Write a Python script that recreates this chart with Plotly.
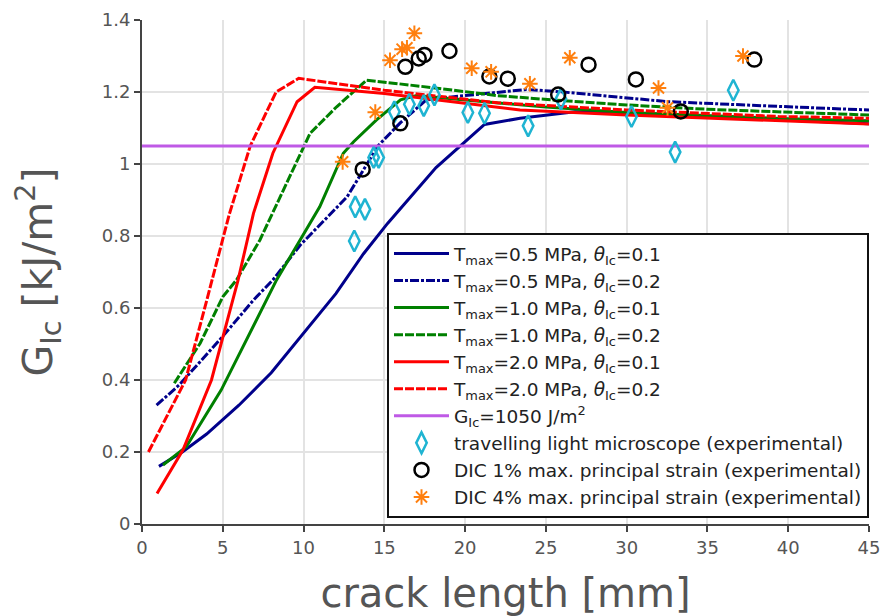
import plotly.graph_objects as go

# ---------------- data ----------------
# simulation curves (crack length [mm], G_Ic [kJ/m^2])
x_t05_01 = [1.05, 2.5, 4.0, 6.0, 8.0, 10.0, 12.0, 13.7, 15.2, 18.2, 21.2, 23.4, 26.8, 30.0, 35.0, 40.0, 45.0]
y_t05_01 = [0.16, 0.20, 0.25, 0.33, 0.42, 0.53, 0.64, 0.75, 0.835, 0.99, 1.11, 1.127, 1.145, 1.142, 1.132, 1.122, 1.112]

x_t05_02 = [0.9, 2.3, 4.8, 6.9, 8.1, 9.8, 12.7, 14.6, 16.0, 17.6, 19.3, 23.8, 25.8, 32.6, 39.4, 45.0]
y_t05_02 = [0.33, 0.386, 0.511, 0.622, 0.678, 0.775, 0.909, 1.05, 1.115, 1.178, 1.187, 1.207, 1.201, 1.173, 1.16, 1.15]

x_t10_01 = [1.3, 2.75, 4.9, 6.05, 7.7, 8.33, 11.0, 12.46, 13.1, 14.5, 16.0, 17.0, 20.0, 25.0, 30.0, 35.0, 40.0, 45.0]
y_t10_01 = [0.164, 0.215, 0.372, 0.474, 0.622, 0.678, 0.881, 1.03, 1.062, 1.122, 1.178, 1.19, 1.178, 1.158, 1.143, 1.134, 1.126, 1.12]

x_t10_02 = [2.0, 3.6, 5.0, 5.85, 7.3, 9.8, 10.4, 12.05, 13.9, 18.0, 22.0, 26.0, 30.0, 35.0, 40.0, 45.0]
y_t10_02 = [0.391, 0.502, 0.631, 0.678, 0.789, 1.03, 1.085, 1.159, 1.233, 1.212, 1.19, 1.176, 1.164, 1.152, 1.143, 1.136]

x_t20_01 = [0.93, 2.54, 4.3, 5.0, 5.95, 6.9, 8.1, 9.6, 10.7, 15.0, 20.0, 23.4, 30.0, 35.0, 39.4, 45.0]
y_t20_01 = [0.085, 0.206, 0.40, 0.52, 0.678, 0.863, 1.03, 1.173, 1.213, 1.196, 1.168, 1.15, 1.136, 1.128, 1.122, 1.111]

x_t20_02 = [0.4, 2.7, 4.0, 5.4, 6.7, 8.3, 9.7, 15.0, 22.0, 30.0, 39.4, 45.0]
y_t20_02 = [0.20, 0.40, 0.62, 0.86, 1.05, 1.20, 1.238, 1.205, 1.17, 1.15, 1.132, 1.127]

x_gic = [0, 45]
y_gic = [1.05, 1.05]

# experimental data
x_tlm = [13.14, 13.2, 13.8, 14.34, 14.65, 15.62, 16.55, 17.44, 18.1, 20.17, 21.2, 23.9, 25.93, 30.3, 33.0, 36.6]
y_tlm = [0.786, 0.881, 0.874, 1.018, 1.018, 1.145, 1.166, 1.162, 1.192, 1.143, 1.141, 1.106, 1.181, 1.132, 1.033, 1.205]

x_dic1 = [13.66, 15.99, 16.3, 17.13, 17.48, 19.03, 21.5, 22.64, 25.76, 27.64, 30.57, 33.35, 37.9]
y_dic1 = [0.985, 1.113, 1.27, 1.293, 1.303, 1.314, 1.243, 1.237, 1.193, 1.276, 1.235, 1.146, 1.29]

x_dic4 = [12.42, 14.44, 15.35, 16.1, 16.4, 16.86, 20.41, 21.61, 24.01, 26.48, 31.97, 32.53, 37.2]
y_dic4 = [1.006, 1.144, 1.288, 1.319, 1.323, 1.363, 1.266, 1.256, 1.223, 1.295, 1.211, 1.156, 1.30]

x_ticks = [0, 5, 10, 15, 20, 25, 30, 35, 40, 45]
y_ticks = [0, 0.2, 0.4, 0.6, 0.8, 1.0, 1.2, 1.4]
y_ticklabels = ["0", "0.2", "0.4", "0.6", "0.8", "1", "1.2", "1.4"]

# ---------------- figure ----------------
FONT = "DejaVu Sans"
NAVY = "#00008b"
GREEN = "#008000"
RED = "#ff0000"
PURPLE = "#bf5ae6"
CYAN = "#1fb4d2"
ORANGE = "#ff7f0e"

fig = go.Figure()

def name(t, th):
    return f"T<sub>max</sub>={t} MPa, <i>θ</i><sub>Ic</sub>={th}"

curves = [
    (x_t05_01, y_t05_01, NAVY, "solid", name("0.5", "0.1")),
    (x_t05_02, y_t05_02, NAVY, "9px,2px,3px,2px", name("0.5", "0.2")),
    (x_t10_01, y_t10_01, GREEN, "solid", name("1.0", "0.1")),
    (x_t10_02, y_t10_02, GREEN, "9px,2px", name("1.0", "0.2")),
    (x_t20_01, y_t20_01, RED, "solid", name("2.0", "0.1")),
    (x_t20_02, y_t20_02, RED, "9px,2px", name("2.0", "0.2")),
]
for xs, ys, c, d, n in curves:
    fig.add_trace(go.Scatter(x=xs, y=ys, mode="lines", name=n,
                             line=dict(color=c, width=3, dash=d)))

fig.add_trace(go.Scatter(x=x_gic, y=y_gic, mode="lines",
                         name="G<sub>Ic</sub>=1050 J/m<sup>2</sup>",
                         line=dict(color=PURPLE, width=3)))

fig.add_trace(go.Scatter(x=x_tlm, y=y_tlm, mode="markers",
                         name="travelling light microscope (experimental)",
                         marker=dict(symbol="diamond-tall-open", size=15, color=CYAN,
                                     line=dict(color=CYAN, width=2.5))))
fig.add_trace(go.Scatter(x=x_dic1, y=y_dic1, mode="markers",
                         name="DIC 1% max. principal strain (experimental)",
                         marker=dict(symbol="circle-open", size=14, color="black",
                                     line=dict(color="black", width=2.5))))
fig.add_trace(go.Scatter(x=x_dic4, y=y_dic4, mode="markers",
                         name="DIC 4% max. principal strain (experimental)",
                         marker=dict(symbol="asterisk-open", size=13, color=ORANGE,
                                     line=dict(color=ORANGE, width=2))))

axis_common = dict(
    showgrid=True, gridcolor="#e3e3e3", gridwidth=1.5,
    showline=True, linecolor="#444", linewidth=2,
    ticks="outside", ticklen=6, tickwidth=1.5, tickcolor="#444",
    tickfont=dict(family=FONT, size=18, color="#555"),
    ticklabeloverflow="allow",
    automargin=False,
    zeroline=False,
)

fig.update_layout(
    width=880, height=616,
    margin=dict(l=142, r=11, t=20, b=92, autoexpand=False),
    plot_bgcolor="white", paper_bgcolor="white",
    font=dict(family=FONT, color="#222"),
    xaxis=dict(range=[0, 45], tickvals=x_ticks,
               title=dict(text="crack length [mm]", standoff=22,
                          font=dict(family=FONT, size=40, color="#555")),
               **axis_common),
    yaxis=dict(range=[0, 1.4], tickvals=y_ticks, ticktext=y_ticklabels,
               title=dict(text="G<sub>Ic</sub> [kJ/m<sup>2</sup>]", standoff=36,
                          font=dict(family=FONT, size=41, color="#555")),
               **axis_common),
    legend=dict(x=1, xanchor="right", y=0.012, yanchor="bottom",
                bgcolor="white", bordercolor="#111", borderwidth=2,
                font=dict(family=FONT, size=18.5, color="#222"),
                itemwidth=55, tracegroupgap=0),
    showlegend=True,
)

fig.write_html("out.html")
